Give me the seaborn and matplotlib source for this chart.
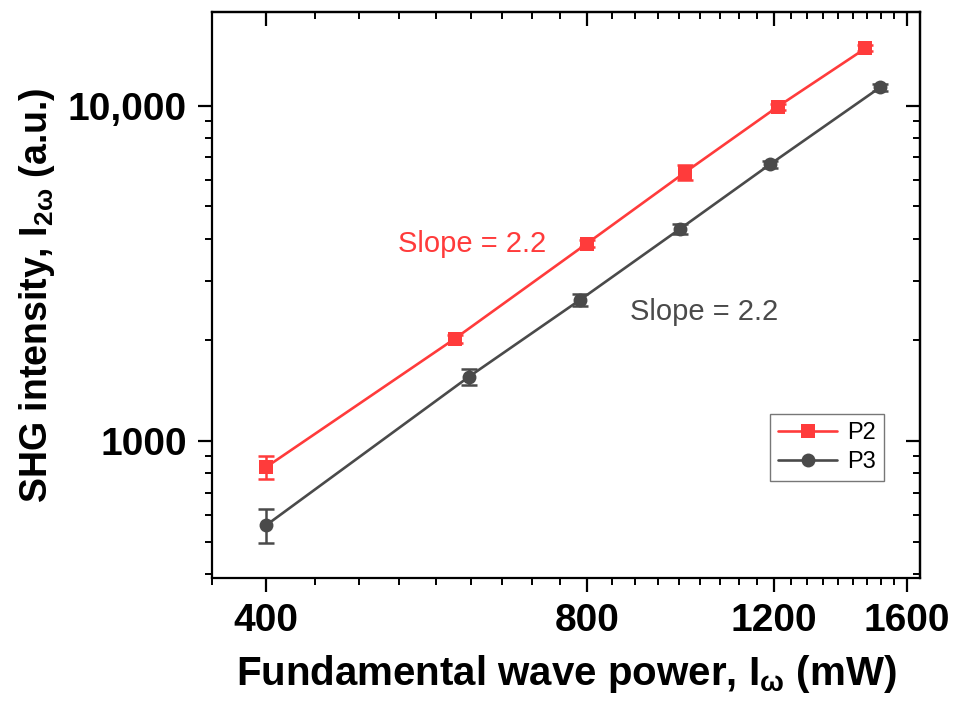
import numpy as np
import pandas as pd
import seaborn as sns
import matplotlib.pyplot as plt
from matplotlib.ticker import FixedLocator, LogLocator, NullFormatter

# values
power_p2 = [400, 601, 800, 989, 1210, 1462]
shg_p2 = [836, 2014, 3873, 6310, 9930, 14800]
err_p2 = [67, 60, 100, 330, 200, 300]

power_p3 = [400, 620, 789, 980, 1189, 1509]
shg_p3 = [561, 1553, 2636, 4297, 6670, 11320]
err_p3 = [64, 85, 110, 150, 180, 300]

samples = ['P2', 'P3']
colors = {'P2': '#FF3B3B', 'P3': '#4A4A4A'}
markers = {'P2': 's', 'P3': 'o'}

x_major = [400, 800, 1200, 1600]
x_major_labels = ['400', '800', '1200', '1600']
y_major = [1000, 10000]
y_major_labels = ['1000', '10,000']

df = pd.concat([
    pd.DataFrame({'power': power_p2, 'shg': shg_p2, 'err': err_p2, 'sample': 'P2'}),
    pd.DataFrame({'power': power_p3, 'shg': shg_p3, 'err': err_p3, 'sample': 'P3'}),
], ignore_index=True)

sns.set_style('white')
plt.rcParams['font.family'] = ['Liberation Sans', 'DejaVu Sans']
plt.rcParams['text.color'] = 'black'
plt.rcParams['axes.labelcolor'] = 'black'
plt.rcParams['xtick.color'] = 'black'
plt.rcParams['ytick.color'] = 'black'
plt.rcParams['mathtext.fontset'] = 'custom'
plt.rcParams['mathtext.rm'] = 'Liberation Sans:bold'
plt.rcParams['mathtext.it'] = 'Liberation Sans:bold'
plt.rcParams['mathtext.bf'] = 'Liberation Sans:bold'

fig = plt.figure(figsize=(9.59, 7.08), dpi=100)
ax = fig.add_axes([0.221, 0.1836, 0.738, 0.7994])
ax.set_xscale('log')
ax.set_yscale('log')

# error bars first so markers sit on top
for s in samples:
    d = df[df['sample'] == s]
    ax.errorbar(d['power'], d['shg'], yerr=d['err'], fmt='none', ecolor=colors[s],
                elinewidth=1.8, capsize=6, capthick=1.8, zorder=2)

sns.lineplot(data=df, x='power', y='shg', hue='sample', style='sample',
             palette=colors, markers=markers, dashes=False, linewidth=1.9,
             markersize=10, markeredgewidth=0, ax=ax, zorder=3)

ax.set_xlim(355.56, 1644.44)
ax.set_ylim(390, 19000)

ax.xaxis.set_major_locator(FixedLocator(x_major))
ax.set_xticklabels(x_major_labels)
x_minor = [v for v in np.arange(355.56, 1645, 400 / 9) if min(abs(v - m) for m in x_major) > 1]
ax.xaxis.set_minor_locator(FixedLocator(x_minor))
ax.xaxis.set_minor_formatter(NullFormatter())

ax.yaxis.set_major_locator(FixedLocator(y_major))
ax.set_yticklabels(y_major_labels)
ax.yaxis.set_minor_locator(LogLocator(base=10, subs=np.arange(2, 10)))
ax.yaxis.set_minor_formatter(NullFormatter())

ax.tick_params(which='both', bottom=True, left=True, top=False, right=False)
ax.tick_params(which='major', direction='out', length=10, width=1.6, labelsize=28, pad=8)
ax.tick_params(which='minor', direction='out', length=5, width=1.4)
for lab in ax.get_xticklabels() + ax.get_yticklabels():
    lab.set_fontweight('bold')

# inward ticks on top and right
top = ax.secondary_xaxis('top')
top.xaxis.set_major_locator(FixedLocator(x_major))
top.xaxis.set_minor_locator(FixedLocator(x_minor))
top.tick_params(which='both', top=True, labeltop=False)
top.tick_params(which='major', direction='in', length=10, width=1.6)
top.tick_params(which='minor', direction='in', length=5, width=1.4)
top.xaxis.set_major_formatter(NullFormatter())
top.xaxis.set_minor_formatter(NullFormatter())
right = ax.secondary_yaxis('right')
right.yaxis.set_major_locator(FixedLocator(y_major))
right.yaxis.set_minor_locator(LogLocator(base=10, subs=np.arange(2, 10)))
right.tick_params(which='both', right=True, labelright=False)
right.tick_params(which='major', direction='in', length=10, width=1.6)
right.tick_params(which='minor', direction='in', length=5, width=1.4)
right.yaxis.set_major_formatter(NullFormatter())
right.yaxis.set_minor_formatter(NullFormatter())

for a in (ax, top, right):
    for sp in a.spines.values():
        sp.set_linewidth(1.6)
        sp.set_color('black')

ax.set_xlabel(r'Fundamental wave power, I$_{\mathregular{ω}}$ (mW)', fontsize=29,
              fontweight='bold', labelpad=10)
ax.set_ylabel(r'SHG intensity, I$_{\mathregular{2ω}}$ (a.u.)', fontsize=27,
              fontweight='bold', labelpad=8)

ax.text(0.368, 0.59, 'Slope = 2.2', transform=ax.transAxes, color=colors['P2'],
        fontsize=21, ha='center', va='center')
ax.text(0.696, 0.47, 'Slope = 2.2', transform=ax.transAxes, color=colors['P3'],
        fontsize=21, ha='center', va='center')

handles, labels = ax.get_legend_handles_labels()
leg = ax.legend(handles, labels, loc='lower left', bbox_to_anchor=(0.772, 0.15),
                fontsize=17, frameon=True, fancybox=False, edgecolor='#555555',
                handlelength=2.5, handletextpad=0.4, borderpad=0.35, labelspacing=0.3)
leg.get_frame().set_linewidth(1.0)

fig.savefig('out.png', dpi=100)
